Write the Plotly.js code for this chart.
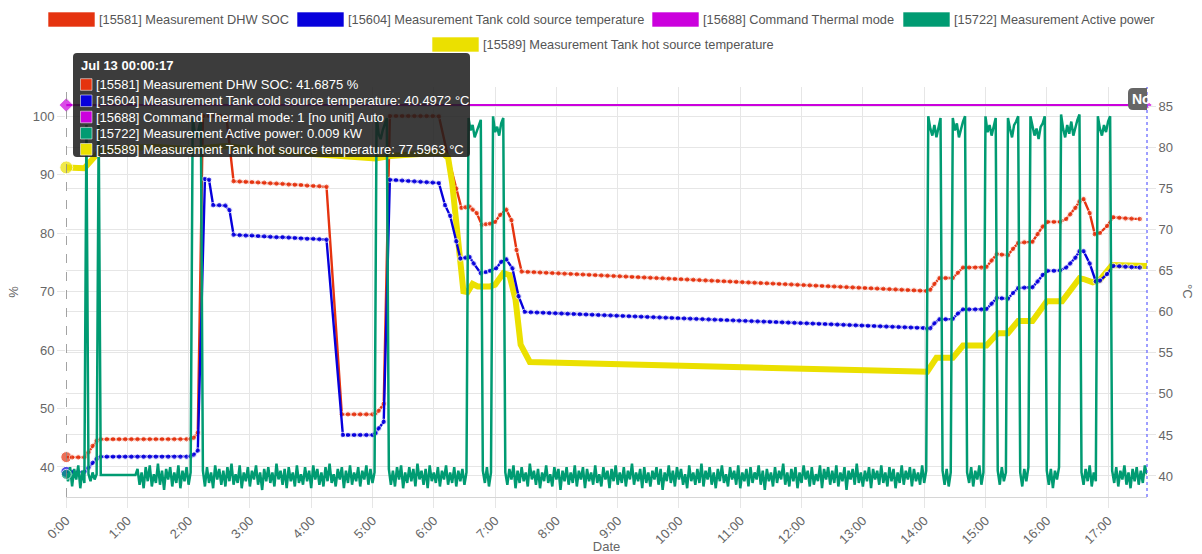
<!DOCTYPE html>
<html>
<head>
<meta charset="utf-8">
<script src="https://cdn.plot.ly/plotly-3.0.1.min.js"></script>
<style>
html,body{margin:0;padding:0;background:#ffffff;}
#chart{width:1202px;height:554px;}
</style>
</head>
<body>
<div id="chart"></div>
<script>
// ---------------- DATA ----------------
const DAY = '2023-07-13';
const seriesNames = [
  '[15581] Measurement DHW SOC',
  '[15604] Measurement Tank cold source temperature',
  '[15688] Command Thermal mode',
  '[15722] Measurement Active power',
  '[15589] Measurement Tank hot source temperature'
];
const hoverTime = 'Jul 13 00:00:17';
const hoverValues = ['41.6875', '40.4972', '1', '0.009', '77.5963'];
const hoverUnits = ['%', '°C', '[no unit] Auto', 'kW', '°C'];
const hourTicks = ['0:00','1:00','2:00','3:00','4:00','5:00','6:00','7:00','8:00','9:00','10:00','11:00','12:00','13:00','14:00','15:00','16:00','17:00'];
const leftTicks = [40, 50, 60, 70, 80, 90, 100];
const rightTicks = [40, 45, 50, 55, 60, 65, 70, 75, 80, 85];

// DHW SOC (%), minutes after midnight
const socMin = [0.2833,6,12,18,22,26,30,34,40,46,52,58,64,70,76,82,88,94,100,106,112,118,122,125,129,
  134,140,146,151,157,164,170,176,182,188,194,200,206,212,218,224,230,236,242,248,255,
  270,276,282,288,294,300,303,306,311,317,323,329,335,341,347,353,359,365,
  374,382,387,391,395,398,402,407,411,415,420,425,431,436,441,446,
  452,458,464,470,476,482,488,494,500,506,512,518,524,530,536,542,548,554,560,566,
  572,578,584,590,596,602,608,614,620,626,632,638,644,650,656,662,668,674,680,686,
  692,698,704,710,716,722,728,734,740,746,752,758,764,770,776,782,788,794,800,806,
  812,818,824,830,836,842,
  846,850,855,861,868,873,878,884,890,896,901,906,911,916,922,927,932,938,946,951,956,961,967,973,
  979,983,988,992,996,1002,1007,1012,1019,1025,1031,1037,1043,1051];
const socPct = [41.69,41.65,41.65,41.65,42.5,43.6,44.5,44.75,44.75,44.75,44.75,44.75,44.75,44.75,44.75,44.75,44.75,44.75,44.75,44.75,44.75,44.75,44.8,45.0,45.9,
  100,100,100,100,99.9,88.85,88.8,88.75,88.7,88.65,88.6,88.5,88.45,88.4,88.3,88.25,88.2,88.1,88.05,88.0,87.9,
  49.0,49.0,49.0,49.0,49.0,49.0,49.2,49.6,50.8,100,100,100,100,100,100,100,100,99.95,
  93.0,87.6,84.3,84.4,84.5,84.0,83.4,81.4,81.5,81.6,81.9,83.1,84.0,82.2,77.1,73.4,
  73.35,73.3,73.25,73.2,73.15,73.1,73.05,73.0,72.95,72.9,72.85,72.8,72.75,72.7,72.65,72.6,72.55,72.5,72.45,72.4,
  72.35,72.3,72.25,72.2,72.15,72.1,72.05,72.0,71.95,71.9,71.85,71.8,71.75,71.7,71.65,71.6,71.55,71.5,71.45,71.4,
  71.35,71.3,71.25,71.2,71.15,71.1,71.05,71.0,70.95,70.9,70.85,70.8,70.75,70.7,70.65,70.6,70.55,70.5,70.45,70.4,
  70.35,70.3,70.25,70.2,70.15,70.1,
  70.3,71.3,72.3,72.3,72.3,73.2,74.1,74.1,74.1,74.1,74.2,75.3,76.4,76.3,76.2,77.3,78.3,78.4,78.5,79.8,81.1,81.9,81.9,81.9,
  82.4,83.2,84.3,85.4,85.8,83.4,79.8,80.0,81.2,82.7,82.6,82.5,82.45,82.4];

// Tank cold source temperature (°C)
const coldMin = [0.2833,6,12,18,22,26,30,34,40,46,52,58,64,70,76,82,88,94,100,106,112,118,122,125,129,
  136,140,144,150,156,160,164,170,176,182,188,194,200,206,212,218,224,230,236,242,248,255,
  271,276,282,288,294,300,303,306,311,317,323,329,335,341,347,353,359,365,
  371,376,382,386,391,395,399,406,411,415,421,426,431,437,443,449,
  455,461,467,473,479,485,491,497,503,509,515,521,527,533,539,545,551,557,563,569,
  575,581,587,593,599,605,611,617,623,629,635,641,647,653,659,665,671,677,683,689,
  695,701,707,713,719,725,731,737,743,749,755,761,767,773,779,785,791,797,803,809,
  815,821,827,833,839,
  843,846,850,855,861,868,873,878,884,890,896,901,906,911,916,922,927,932,938,946,951,956,961,967,973,
  979,983,988,992,996,1002,1008,1012,1019,1025,1031,1037,1043,1051];
const coldC = [40.5,40.5,40.5,40.5,41.0,41.6,42.1,42.35,42.35,42.35,42.35,42.35,42.35,42.35,42.35,42.35,42.35,42.35,42.35,42.35,42.35,42.35,42.4,42.6,43.1,
  76.2,76.1,73.0,73.0,72.95,72.4,69.4,69.35,69.3,69.3,69.25,69.2,69.15,69.1,69.1,69.05,69.0,68.95,68.9,68.9,68.85,68.8,
  45.0,45.0,45.0,45.0,45.0,45.0,45.2,45.8,46.6,76.1,76.05,76.0,75.95,75.9,75.85,75.8,75.75,75.7,
  73.0,71.7,68.6,66.5,66.6,66.7,65.9,64.7,64.85,65.0,65.3,66.1,66.4,65.3,61.9,60.0,
  59.95,59.92,59.89,59.86,59.83,59.8,59.77,59.74,59.71,59.68,59.65,59.62,59.59,59.56,59.53,59.5,59.47,59.44,59.41,59.38,
  59.35,59.32,59.29,59.26,59.23,59.2,59.17,59.14,59.11,59.08,59.05,59.02,58.99,58.96,58.93,58.9,58.87,58.84,58.81,58.78,
  58.75,58.72,58.69,58.66,58.63,58.6,58.57,58.54,58.51,58.48,58.45,58.42,58.39,58.36,58.33,58.3,58.27,58.24,58.21,58.18,
  58.15,58.12,58.09,58.06,58.03,
  57.95,58.0,58.6,59.1,59.1,59.15,59.8,60.3,60.3,60.3,60.3,60.35,61.0,61.7,61.65,61.6,62.3,62.9,62.95,63.0,63.7,64.5,65.0,65.0,65.05,
  65.4,65.9,66.6,67.4,67.4,65.9,63.7,63.8,64.6,65.6,65.55,65.5,65.45,65.4];

// Tank hot source temperature (°C)
const hotMin = [0.2833,18,33,60,90,124,136,157,190,255,280,303,317,365,370,374,378,384,389,393,398,403,415,420,428,434,440,445,454,
  843,852,868,878,901,912,922,932,946,960,975,992,996,1005,1012,1024,1058];
const hotC = [77.6,77.5,79.6,80.0,80.1,79.8,80.0,80.2,79.7,79.1,78.8,78.7,79.0,79.4,79.2,78.8,75.7,68.0,62.5,62.4,63.4,63.1,63.1,63.3,64.7,64.5,61.5,56.0,53.9,
  52.7,54.4,54.4,55.9,55.9,57.4,57.4,58.9,58.9,61.3,61.3,64.1,64.0,63.6,63.9,65.7,65.6];

// Command thermal mode (1 = Auto)
const modeMin = [0.2833, 1058.1];
const modeVal = [1, 1];

// Active power (kW): [minute, kW]
const powerSamples = [
[0.2833,0.009],[2,-0.03],[4,0.05],[6,-0.06],[8,0.04],[10,-0.02],[12,0.06],[14,-0.07],[16,0.03],[18,-0.04],
[20,2.0],[22,0.01],[24,-0.03],[26,0.02],[28,-0.02],[30,0.01],[32,2.0],[34,0.005],[68,0.005],
[70,0.04],[72,-0.05],[74,0.02],[76,-0.07],[78,0.05],[80,-0.03],[82,0.06],[84,-0.06],[86,0.01],[88,-0.04],
[90,0.07],[92,-0.05],[94,0.03],[96,-0.08],[98,0.04],[100,-0.02],[102,0.05],[104,-0.06],[106,0.02],[108,-0.04],
[110,0.06],[112,-0.07],[114,0.03],[116,-0.03],[118,0.05],[120,-0.05],[122,0.02],
[124,2.04],[126,1.96],[128,1.93],[130,1.99],[132,2.03],[134,0.03],
[136,-0.06],[138,0.05],[140,-0.04],[142,0.02],[144,-0.07],[146,0.06],[148,-0.02],[150,0.04],[152,-0.05],[154,0.03],
[156,-0.06],[158,0.05],[160,-0.03],[162,0.07],[164,-0.05],[166,0.01],[168,-0.04],[170,0.06],[172,-0.07],[174,0.02],
[176,-0.03],[178,0.05],[180,-0.06],[182,0.03],[184,-0.02],[186,0.06],[188,-0.05],[190,0.02],[192,-0.08],[194,0.04],
[196,-0.03],[198,0.05],[200,-0.04],[202,0.02],[204,-0.06],[206,0.07],[208,-0.02],[210,0.03],[212,-0.05],[214,0.04],
[216,-0.07],[218,0.05],[220,-0.03],[222,0.02],[224,-0.06],[226,0.06],[228,-0.04],[230,0.01],[232,-0.05],[234,0.05],
[236,-0.03],[238,0.03],[240,-0.07],[242,0.06],[244,-0.02],[246,0.04],[248,-0.05],[250,0.02],[252,-0.06],[254,0.05],
[256,-0.03],[258,0.07],[260,-0.04],[262,0.01],[264,-0.06],[266,0.04],[268,-0.02],[270,0.05],[272,-0.07],[274,0.03],
[276,-0.04],[278,0.06],[280,-0.05],[282,0.02],[284,-0.03],[286,0.05],[288,-0.06],[290,0.03],[292,-0.02],[294,0.06],
[296,-0.05],[298,0.04],[300,-0.04],[302,0.02],
[304,2.05],[306,1.95],[308,1.92],[310,1.97],[312,2.01],[314,2.04],[316,0.04],
[318,-0.05],[320,0.03],[322,-0.06],[324,0.05],[326,-0.02],[328,0.06],[330,-0.07],[332,0.02],[334,-0.04],[336,0.05],
[338,-0.03],[340,0.04],[342,-0.06],[344,0.07],[346,-0.02],[348,0.03],[350,-0.05],[352,0.04],[354,-0.07],[356,0.06],
[358,-0.03],[360,0.02],[362,-0.04],[364,0.05],[366,-0.06],[368,0.03],[370,-0.02],[372,0.06],[374,-0.05],[376,0.02],
[378,-0.04],[380,0.05],[382,-0.06],[384,0.03],[386,-0.03],[388,0.04],[390,-0.05],[392,0.02],
[394,2.04],[396,1.97],[398,2.0],[400,1.93],[402,1.96],[404,1.99],[406,2.03],[408,0.03],
[410,-0.04],[412,0.05],[414,-0.06],[416,0.02],
[418,2.05],[420,1.96],[422,1.99],[424,1.94],[426,2.01],[428,2.04],[430,0.02],
[432,-0.05],[434,0.04],[436,-0.02],[438,0.06],[440,-0.07],[442,0.03],[444,-0.04],[446,0.05],[448,-0.03],[450,0.02],
[452,-0.06],[454,0.07],[456,-0.02],[458,0.03],[460,-0.05],[462,0.04],[464,-0.07],[466,0.02],[468,-0.03],[470,0.06],
[472,-0.04],[474,0.01],[476,-0.06],[478,0.05],[480,-0.02],[482,0.04],[484,-0.08],[486,0.03],[488,-0.03],[490,0.05],
[492,-0.05],[494,0.02],[496,-0.04],[498,0.06],[500,-0.06],[502,0.03],[504,-0.02],[506,0.05],[508,-0.07],[510,0.04],
[512,-0.03],[514,0.02],[516,-0.05],[518,0.06],[520,-0.04],[522,0.01],[524,-0.06],[526,0.05],[528,-0.02],[530,0.03],
[532,-0.07],[534,0.04],[536,-0.03],[538,0.06],[540,-0.05],[542,0.02],[544,-0.04],[546,0.05],[548,-0.06],[550,0.03],
[552,-0.02],[554,0.07],[556,-0.05],[558,0.02],[560,-0.03],[562,0.04],[564,-0.07],[566,0.05],[568,-0.04],[570,0.02],
[572,-0.06],[574,0.03],[576,-0.02],[578,0.05],[580,-0.05],[582,0.04],[584,-0.08],[586,0.02],[588,-0.03],[590,0.06],
[592,-0.04],[594,0.03],[596,-0.06],[598,0.05],[600,-0.02],[602,0.04],[604,-0.05],[606,0.01],[608,-0.07],[610,0.06],
[612,-0.03],[614,0.02],[616,-0.05],[618,0.04],[620,-0.04],[622,0.07],[624,-0.06],[626,0.03],[628,-0.02],[630,0.05],
[632,-0.05],[634,0.02],[636,-0.07],[638,0.04],[640,-0.03],[642,0.06],[644,-0.04],[646,0.01],[648,-0.06],[650,0.05],
[652,-0.02],[654,0.03],[656,-0.05],[658,0.06],[660,-0.07],[662,0.02],[664,-0.03],[666,0.04],[668,-0.06],[670,0.05],
[672,-0.04],[674,0.02],[676,-0.02],[678,0.06],[680,-0.05],[682,0.03],[684,-0.08],[686,0.04],[688,-0.03],[690,0.02],
[692,-0.06],[694,0.05],[696,-0.04],[698,0.03],[700,-0.02],[702,0.07],[704,-0.05],[706,0.02],[708,-0.06],[710,0.04],
[712,-0.03],[714,0.05],[716,-0.07],[718,0.02],[720,-0.04],[722,0.06],[724,-0.02],[726,0.03],[728,-0.06],[730,0.05],
[732,-0.05],[734,0.01],[736,-0.03],[738,0.06],[740,-0.07],[742,0.04],[744,-0.02],[746,0.05],[748,-0.05],[750,0.03],
[752,-0.04],[754,0.06],[756,-0.06],[758,0.02],[760,-0.03],[762,0.05],[764,-0.08],[766,0.03],[768,-0.02],[770,0.04],
[772,-0.05],[774,0.07],[776,-0.04],[778,0.02],[780,-0.06],[782,0.03],[784,-0.03],[786,0.05],[788,-0.07],[790,0.04],
[792,-0.02],[794,0.03],[796,-0.05],[798,0.06],[800,-0.04],[802,0.02],[804,-0.06],[806,0.05],[808,-0.03],[810,0.04],
[812,-0.07],[814,0.02],[816,-0.04],[818,0.06],[820,-0.05],[822,0.03],[824,-0.02],[826,0.05],[828,-0.06],[830,0.04],
[832,-0.03],[834,0.02],[836,-0.05],[838,0.06],[840,-0.04],[842,0.03],
[844,2.05],[846,1.98],[848,1.94],[850,2.0],[852,1.93],[854,1.99],[856,2.04],[858,0.03],
[860,-0.05],[862,0.04],[864,-0.06],[866,0.02],
[868,2.04],[870,1.97],[872,2.01],[874,1.93],[876,1.98],[878,2.02],[880,2.05],[882,0.02],
[884,-0.04],[886,0.05],[888,-0.06],[890,0.03],[892,-0.02],[894,0.06],[896,-0.05],[898,0.02],
[900,2.05],[902,1.96],[904,2.0],[906,1.94],[908,1.99],[910,2.04],[912,0.03],
[914,-0.05],[916,0.05],[918,-0.03],[920,0.02],
[922,2.04],[924,1.98],[926,1.93],[928,2.0],[930,2.02],[932,2.05],[934,0.02],
[936,-0.06],[938,0.04],[940,-0.03],[942,0.05],
[944,2.05],[946,2.0],[948,1.94],[950,1.98],[952,1.92],[954,1.99],[956,2.01],[958,2.05],[960,0.03],
[962,-0.05],[964,0.04],[966,-0.07],[968,0.03],[970,-0.02],[972,0.05],
[974,2.06],[976,1.98],[978,1.93],[980,2.0],[982,1.95],[984,2.02],[986,1.94],[988,1.99],[990,2.03],[992,2.06],[994,0.02],
[996,-0.05],[998,0.04],[1000,-0.03],[1002,0.06],[1004,-0.06],[1006,0.02],[1008,-0.03],
[1010,2.05],[1012,1.98],[1014,1.94],[1016,2.0],[1018,1.96],[1020,2.02],[1022,2.05],[1024,0.03],
[1026,-0.04],[1028,0.05],[1030,-0.06],[1032,0.03],[1034,-0.02],[1036,0.06],[1038,-0.05],[1040,0.02],[1042,-0.07],[1044,0.04],
[1046,-0.03],[1048,0.05],[1050,-0.05],[1052,0.03],[1054,-0.04],[1056,0.06],[1058,0.01]
];

// ---------------- STYLE ----------------
const COLORS = { soc:'#e5330f', cold:'#0700dc', mode:'#cb00dd', power:'#009b72', hot:'#ebe000' };
const legendColors = [COLORS.soc, COLORS.cold, COLORS.mode, COLORS.power, COLORS.hot];
const FONT = 'Liberation Sans, Arial, Helvetica, sans-serif';
const GRID = '#e6e6e6';
const TXT = '#666666';

function p2(n){ return (n < 10 ? '0' : '') + n; }
function tm(min){
  const s = Math.round(min * 60);
  return DAY + ' ' + p2(Math.floor(s / 3600)) + ':' + p2(Math.floor((s % 3600) / 60)) + ':' + p2(s % 60);
}
function firstBig(arr, big, small){ return arr.map((v, i) => i === 0 ? big : small); }

const powerMin = powerSamples.map(p => p[0]);
const powerKW = powerSamples.map(p => p[1]);

const traces = [
  { x: socMin.map(tm), y: socPct, yaxis:'y', type:'scatter', mode:'lines+markers', cliponaxis:false,
    line:{color:COLORS.soc, width:2.4}, marker:{color:COLORS.soc, size:firstBig(socPct, 11, 5.5)}, name:seriesNames[0], showlegend:false },
  { x: hotMin.map(tm), y: hotC, yaxis:'y2', type:'scatter', mode:'lines+markers', cliponaxis:false,
    line:{color:COLORS.hot, width:6}, marker:{color:COLORS.hot, size:firstBig(hotC, 13, 0)}, name:seriesNames[4], showlegend:false },
  { x: coldMin.map(tm), y: coldC, yaxis:'y2', type:'scatter', mode:'lines+markers', cliponaxis:false,
    line:{color:COLORS.cold, width:2.4}, marker:{color:COLORS.cold, size:firstBig(coldC, 11, 5.5)}, name:seriesNames[1], showlegend:false },
  { x: modeMin.map(tm), y: modeVal, yaxis:'y3', type:'scatter', mode:'lines+markers', cliponaxis:false,
    line:{color:COLORS.mode, width:2}, marker:{color:COLORS.mode, size:[11, 11], symbol:['diamond','triangle-right']}, name:seriesNames[2], showlegend:false },
  { x: powerMin.map(tm), y: powerKW, yaxis:'y4', type:'scatter', mode:'lines+markers', cliponaxis:false,
    line:{color:COLORS.power, width:2.5}, marker:{color:COLORS.power, size:firstBig(powerKW, 10, 0)}, name:seriesNames[3], showlegend:false }
];

// pixel helpers relative to the plot origin (left=66, top=87)
const PL = 66, PT = 87;
function rectPx(x0, y0, x1, y1, fill, lineColor, lineWidth){
  return { type:'rect', xref:'paper', yref:'paper', xsizemode:'pixel', ysizemode:'pixel', xanchor:0, yanchor:1,
    x0: x0 - PL, x1: x1 - PL, y0: PT - y1, y1: PT - y0, fillcolor: fill,
    line:{ color: lineColor || 'rgba(0,0,0,0)', width: lineWidth || 0 }, layer:'above' };
}
function textPx(x, y, text, opts){
  return Object.assign({ xref:'paper', yref:'paper', x:0, y:1, xshift: x - PL, yshift: PT - y, text: text,
    showarrow:false, xanchor:'left', yanchor:'middle', font:{family:FONT, size:12.8, color:'#555555'} }, opts || {});
}

const shapes = [];
const annotations = [];

// crosshair at hovered time
shapes.push({ type:'line', xref:'x', yref:'paper', x0: tm(socMin[0]), x1: tm(socMin[0]), y0:0, y1:1,
  line:{color:'#8a8a8a', width:1, dash:'dash'}, layer:'above' });
// "Now" plot line at right edge
shapes.push({ type:'line', xref:'paper', yref:'paper', x0:1, x1:1, y0:0, y1:1,
  line:{color:'#3f3fff', width:1, dash:'dot'}, layer:'above' });
// Now label box (clipped)
shapes.push({ type:'path', xref:'paper', yref:'paper', xsizemode:'pixel', ysizemode:'pixel', xanchor:1, yanchor:1,
  path:'M -14,-1 L 0,-1 L 0,-23 L -14,-23 Q -19,-23 -19,-18 L -19,-6 Q -19,-1 -14,-1 Z',
  fillcolor:'#666666', line:{width:0}, layer:'above' });
annotations.push(textPx(1130, 98.5, '<b>No</b>', {font:{family:FONT, size:14, color:'#ffffff'}}));

// legend (manual, two centered rows)
const legendPos = [[48, 12], [297, 12], [652, 12], [903, 12], [432, 37]];
seriesNames.forEach((nm, i) => {
  const [lx, ly] = legendPos[i];
  shapes.push(rectPx(lx, ly, lx + 47, ly + 15, legendColors[i], 'rgba(255,255,255,0.6)', 1));
  annotations.push(textPx(lx + 49, ly + 7.5, nm));
});

// tooltip box
shapes.push({ type:'path', xref:'paper', yref:'paper', xsizemode:'pixel', ysizemode:'pixel', xanchor:0, yanchor:1,
  path:'M 11,34 L 400,34 Q 404,34 404,30 L 404,-66 Q 404,-70 400,-70 L 11,-70 Q 7,-70 7,-66 L 7,30 Q 7,34 11,34 Z',
  fillcolor:'rgba(28,28,28,0.86)', line:{width:0}, layer:'above' });
annotations.push(textPx(79, 65.5, '<b>' + hoverTime + '</b>', {font:{family:FONT, size:13, color:'#ffffff'}}));
const tipRowY = [84.5, 100.8, 117, 133.2, 149.3];
seriesNames.forEach((nm, i) => {
  const y = tipRowY[i];
  shapes.push(rectPx(80.5, y - 5.8, 92, y + 5.8, legendColors[i], 'rgba(255,255,255,0.55)', 1));
  annotations.push(textPx(93.5, y, nm + ': ' + hoverValues[i] + ' ' + hoverUnits[i], {font:{family:FONT, size:13, color:'#ffffff'}}));
});

// right axis title (rotated clockwise as in the original)
annotations.push(textPx(1188, 291, '°C', {xanchor:'center', textangle:90, font:{family:FONT, size:13, color:TXT}}));

const layout = {
  width:1202, height:554,
  margin:{l:66, r:55, t:87, b:57, pad:0},
  paper_bgcolor:'#ffffff', plot_bgcolor:'#ffffff',
  font:{family:FONT, size:13, color:TXT},
  showlegend:false,
  hovermode:false,
  xaxis:{
    type:'date', range:[DAY + ' 00:00:00', DAY + ' 17:38:06'],
    tickvals: hourTicks.map((h, i) => tm(i * 60)), ticktext: hourTicks,
    tickangle:-45, tickfont:{family:FONT, size:13, color:TXT},
    showgrid:true, gridcolor:GRID, gridwidth:1,
    ticks:'outside', ticklen:10, tickcolor:GRID,
    showline:true, linecolor:'#d6d6d6', linewidth:1, zeroline:false,
    title:{text:'Date', font:{family:FONT, size:13, color:TXT}, standoff:4}
  },
  yaxis:{
    range:[34.87, 104.96], tickvals:leftTicks, ticktext:leftTicks.map(String),
    showgrid:true, gridcolor:GRID, gridwidth:1, zeroline:false, showline:false,
    ticks:'outside', ticklen:8, tickcolor:GRID, tickfont:{family:FONT, size:13, color:TXT},
    title:{text:'%', font:{family:FONT, size:13, color:TXT}, standoff:11}
  },
  yaxis2:{
    overlaying:'y', side:'right', anchor:'x',
    range:[37.44, 87.40], tickvals:rightTicks, ticktext:rightTicks.map(String),
    showgrid:true, gridcolor:GRID, gridwidth:1, zeroline:false, showline:false,
    ticks:'outside', ticklen:8, tickcolor:GRID, tickfont:{family:FONT, size:13, color:TXT}
  },
  yaxis3:{ overlaying:'y', anchor:'x', range:[0, 1.0459], visible:false, showgrid:false, zeroline:false },
  yaxis4:{ overlaying:'y', anchor:'x', range:[-0.12, 2.217], visible:false, showgrid:false, zeroline:false },
  shapes: shapes,
  annotations: annotations
};

Plotly.newPlot('chart', traces, layout, {staticPlot:true, displayModeBar:false});
</script>
</body>
</html>
